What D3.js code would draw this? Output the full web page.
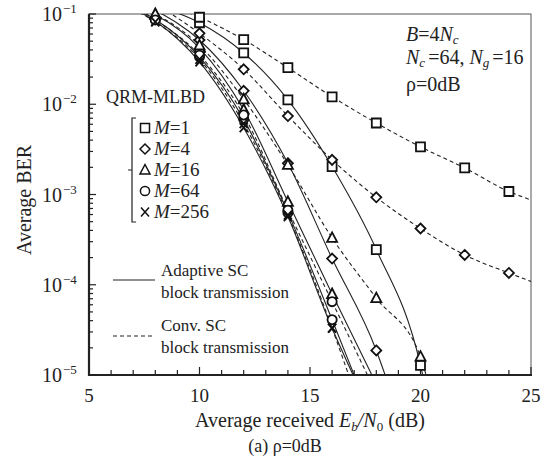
<!DOCTYPE html>
<html><head><meta charset="utf-8">
<script src="https://cdn.jsdelivr.net/npm/d3@7"></script>
<style>
body{margin:0;background:#fff;}
text{font-family:"Liberation Serif","Times New Roman",serif;fill:#222;}
</style></head>
<body><svg id="c" width="554" height="468" font-family="Liberation Serif, Times New Roman, serif"></svg>
<script>
// ---- data (Eb/N0 in dB, BER) ----
const xTicks = [5, 10, 15, 20, 25];
const yTicks = [1e-1, 1e-2, 1e-3, 1e-4, 1e-5];
const yTickExp = ["−1", "−2", "−3", "−4", "−5"];
const markerSNR = [8, 10, 12, 14, 16, 18, 20, 22, 24];
const legendM = ["1", "4", "16", "64", "256"];
const markerTypes = ["square", "diamond", "triangle", "circle", "x"];

// Adaptive SC block transmission (solid)
const adaptM1   = [[8,0.125],[10,0.080],[12,0.037],[14,0.0112],[16,0.00204],[18,0.000245],[20,1.28e-5],[20.1,1.0e-5]];
const adaptM4   = [[8,0.11],[10,0.0515],[12,0.0141],[14,0.00222],[16,0.000195],[18,1.87e-5],[18.4,1.0e-5]];
const adaptM16  = [[7,0.125],[8,0.098],[10,0.042],[12,0.0087],[14,0.00083],[16,7.9e-5],[17.8,1.0e-5]];
const adaptM64  = [[7,0.118],[8,0.087],[10,0.0335],[12,0.0068],[14,0.00063],[16,4.1e-5],[17.0,1.0e-5]];
const adaptM256 = [[7,0.115],[8,0.083],[10,0.0295],[12,0.0055],[14,0.00057],[16,3.3e-5],[16.95,1.0e-5]];
// Conventional SC block transmission (dashed)
const convM1   = [[8,0.14],[10,0.092],[12,0.052],[14,0.0254],[16,0.0121],[18,0.0062],[20,0.00337],[22,0.00197],[24,0.00108],[25,0.00087]];
const convM4   = [[8,0.13],[10,0.061],[12,0.0244],[14,0.0074],[16,0.00242],[18,0.00093],[20,0.00042],[22,0.000214],[24,0.000135],[25,0.000109]];
const convM16  = [[7,0.13],[8,0.1],[10,0.045],[12,0.01135],[14,0.00213],[16,0.00033],[18,7.1e-5],[20,1.6e-5],[20.25,1.0e-5]];
const convM64  = [[7,0.12],[8,0.086],[10,0.035],[12,0.0076],[14,0.00067],[16,6.5e-5],[17.6,1.0e-5]];
const convM256 = [[7,0.112],[8,0.082],[10,0.0315],[12,0.0061],[14,0.00059],[16,3.3e-5],[16.75,1.0e-5]];

const series = [
  {d: adaptM1, m: "square", dash: false}, {d: adaptM4, m: "diamond", dash: false},
  {d: adaptM16, m: "triangle", dash: false}, {d: adaptM64, m: "circle", dash: false},
  {d: adaptM256, m: "x", dash: false},
  {d: convM1, m: "square", dash: true}, {d: convM4, m: "diamond", dash: true},
  {d: convM16, m: "triangle", dash: true}, {d: convM64, m: "circle", dash: true},
  {d: convM256, m: "x", dash: true}
];

const svg = d3.select("#c");
const L = 89, R = 531, T = 14, B = 375;
const x = d3.scaleLinear().domain([5, 25]).range([L, R]);
const y = d3.scaleLog().domain([1e-5, 1e-1]).range([B, T]);

svg.append("clipPath").attr("id", "clip").append("rect")
  .attr("x", L).attr("y", T).attr("width", R - L).attr("height", B - T);

// frame
svg.append("rect").attr("x", L).attr("y", T).attr("width", R - L).attr("height", B - T)
  .attr("fill", "none").attr("stroke", "#555").attr("stroke-width", 1);

// bottom axis (ticks inward)
const minorX = d3.range(5, 25.01, 1);
svg.append("g").selectAll("line").data(minorX).join("line")
  .attr("x1", d => x(d)).attr("x2", d => x(d))
  .attr("y1", B).attr("y2", d => B - (d % 5 === 0 ? 8 : 5))
  .attr("stroke", "#222").attr("stroke-width", 1.2);
svg.append("line").attr("x1", L).attr("x2", R + 1).attr("y1", B).attr("y2", B)
  .attr("stroke", "#222").attr("stroke-width", 2.2);
svg.append("g").selectAll("text").data(xTicks).join("text")
  .attr("x", d => x(d)).attr("y", B + 27).attr("text-anchor", "middle")
  .attr("font-size", 19).text(d => d);

// left axis (ticks inward)
const minorY = [];
for (let e = -5; e < -1; e++) for (let k = 1; k < 10; k++) minorY.push(k * Math.pow(10, e));
minorY.push(0.1);
svg.append("g").selectAll("line").data(minorY).join("line")
  .attr("x1", L).attr("x2", d => L + (yTicks.some(t => Math.abs(t - d) / t < 1e-6) ? 7 : 4))
  .attr("y1", d => y(d)).attr("y2", d => y(d))
  .attr("stroke", "#222").attr("stroke-width", 1.2);
svg.append("line").attr("x1", L).attr("x2", L).attr("y1", T).attr("y2", B + 1)
  .attr("stroke", "#222").attr("stroke-width", 2.2);
svg.append("g").selectAll("text").data(yTicks).join("text")
  .attr("x", 62).attr("y", d => y(d) + 7).attr("text-anchor", "end").attr("font-size", 20)
  .text("10");
svg.append("g").selectAll("text").data(yTicks).join("text")
  .attr("x", 63).attr("y", (d) => y(d) - 1).attr("font-size", 13)
  .text((d, i) => yTickExp[i]);

// axis titles
svg.append("text").attr("transform", "translate(31,200) rotate(-90)")
  .attr("text-anchor", "middle").attr("font-size", 20).text("Average BER");
const xt = svg.append("text").attr("x", 310).attr("y", B + 52).attr("text-anchor", "middle").attr("font-size", 20);
xt.append("tspan").text("Average received ");
xt.append("tspan").attr("font-style", "italic").text("E");
xt.append("tspan").attr("font-style", "italic").attr("font-size", 13).attr("dy", 4).text("b");
xt.append("tspan").attr("dy", -4).attr("font-style", "italic").text("/N");
xt.append("tspan").attr("font-size", 13).attr("dy", 4).text("0");
xt.append("tspan").attr("dy", -4).text(" (dB)");
svg.append("text").attr("x", 285).attr("y", B + 77).attr("text-anchor", "middle")
  .attr("font-size", 18).text("(a) ρ=0dB");

// markers
function markerPath(t) {
  const p = d3.path();
  if (t === "square") { p.rect(-4.5, -4.5, 9, 9); }
  else if (t === "diamond") { p.moveTo(0, -5); p.lineTo(5, 0); p.lineTo(0, 5); p.lineTo(-5, 0); p.closePath(); }
  else if (t === "triangle") { p.moveTo(0, -5.5); p.lineTo(5, 4); p.lineTo(-5, 4); p.closePath(); }
  else if (t === "circle") { p.moveTo(4.6, 0); p.arc(0, 0, 4.6, 0, 2 * Math.PI); }
  else { p.moveTo(-4, -4.5); p.lineTo(4, 4.5); p.moveTo(4, -4.5); p.lineTo(-4, 4.5); }
  return p.toString();
}

const line = d3.line().x(d => x(d[0])).y(d => y(d[1])).curve(d3.curveMonotoneX);
const plot = svg.append("g").attr("clip-path", "url(#clip)");
series.forEach(s => {
  plot.append("path").attr("d", line(s.d)).attr("fill", "none")
    .attr("stroke", "#222").attr("stroke-width", 1.1)
    .attr("stroke-dasharray", s.dash ? "4,3" : null);
});
const mk = svg.append("g");
series.forEach(s => {
  s.d.filter(p => markerSNR.includes(p[0]) && p[1] <= 0.1 && p[1] >= 1e-5).forEach(p => {
    mk.append("path").attr("d", markerPath(s.m))
      .attr("transform", `translate(${x(p[0])},${y(p[1])})`)
      .attr("fill", s.m === "x" ? "none" : "#fff").attr("stroke", "#111").attr("stroke-width", 1.8);
  });
});

// legend: markers
svg.append("text").attr("x", 106).attr("y", 103).attr("font-size", 18).text("QRM-MLBD");
const rowY = d => 128 + d * 21;
svg.append("path").attr("d", `M136,${rowY(0) - 10} H132 V${rowY(4) + 10} H136 M132,${rowY(2)} H128`)
  .attr("fill", "none").attr("stroke", "#222").attr("stroke-width", 1.2);
legendM.forEach((m, i) => {
  mk.append("path").attr("d", markerPath(markerTypes[i]))
    .attr("transform", `translate(145,${rowY(i)})`)
    .attr("fill", "none").attr("stroke", "#111").attr("stroke-width", 1.5);
  const t = svg.append("text").attr("x", 154).attr("y", rowY(i) + 6).attr("font-size", 19);
  t.append("tspan").attr("font-style", "italic").text("M");
  t.append("tspan").text("=" + m);
});

// legend: line styles
svg.append("line").attr("x1", 113).attr("x2", 155).attr("y1", 280).attr("y2", 280)
  .attr("stroke", "#222").attr("stroke-width", 1.2);
svg.append("text").attr("x", 161).attr("y", 276).attr("font-size", 17).text("Adaptive SC");
svg.append("text").attr("x", 161).attr("y", 298).attr("font-size", 17).text("block transmission");
svg.append("line").attr("x1", 113).attr("x2", 155).attr("y1", 336).attr("y2", 336)
  .attr("stroke", "#222").attr("stroke-width", 1.2).attr("stroke-dasharray", "4,3");
svg.append("text").attr("x", 161).attr("y", 331).attr("font-size", 17).text("Conv. SC");
svg.append("text").attr("x", 161).attr("y", 353).attr("font-size", 17).text("block transmission");

// annotation
const a1 = svg.append("text").attr("x", 406).attr("y", 41).attr("font-size", 20);
a1.append("tspan").attr("font-style", "italic").text("B");
a1.append("tspan").text("=4");
a1.append("tspan").attr("font-style", "italic").text("N");
a1.append("tspan").attr("font-style", "italic").attr("font-size", 13).attr("dy", 3).text("c");
const a2 = svg.append("text").attr("x", 406).attr("y", 64).attr("font-size", 20);
a2.append("tspan").attr("font-style", "italic").text("N");
a2.append("tspan").attr("font-style", "italic").attr("font-size", 13).attr("dy", 3).text("c");
a2.append("tspan").attr("dy", -3).attr("dx", 3).text("=64, ");
a2.append("tspan").attr("font-style", "italic").text("N");
a2.append("tspan").attr("font-style", "italic").attr("font-size", 13).attr("dy", 3).text("g");
a2.append("tspan").attr("dy", -3).attr("dx", 3).text("=16");
svg.append("text").attr("x", 406).attr("y", 91).attr("font-size", 20).text("ρ=0dB");
</script></body></html>
